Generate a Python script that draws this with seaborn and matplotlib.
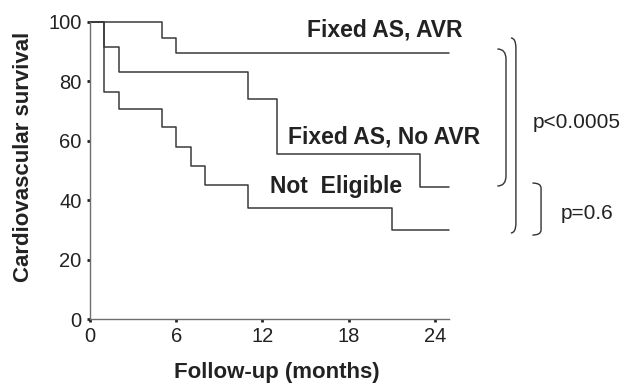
import numpy as np
import pandas as pd
import seaborn as sns
import matplotlib.pyplot as plt
from matplotlib.path import Path
from matplotlib.patches import PathPatch

# Kaplan-Meier style step data
avr_months = [0, 5, 6, 25]
avr_surv = [100, 94.7, 89.5, 89.5]

noavr_months = [0, 1, 2, 11, 13, 23, 25]
noavr_surv = [100, 91.7, 83.3, 74.1, 55.6, 44.4, 44.4]

ne_months = [0, 1, 2, 5, 6, 7, 8, 11, 21, 25]
ne_surv = [100, 76.5, 70.6, 64.5, 58.0, 51.5, 45.0, 37.5, 30.0, 30.0]

groups = ["Fixed AS, AVR", "Fixed AS, No AVR", "Not  Eligible"]
x_ticks = [0, 6, 12, 18, 24]
y_ticks = [0, 20, 40, 60, 80, 100]

df = pd.concat([
    pd.DataFrame({"month": avr_months, "surv": avr_surv, "group": groups[0]}),
    pd.DataFrame({"month": noavr_months, "surv": noavr_surv, "group": groups[1]}),
    pd.DataFrame({"month": ne_months, "surv": ne_surv, "group": groups[2]}),
])

sns.set_style("ticks")
plt.rcParams['font.family'] = ['Liberation Sans', 'DejaVu Sans']

fig = plt.figure(figsize=(6.29, 3.85), dpi=100)
ax = fig.add_axes([0.143, 0.171, 0.571, 0.772])

sns.lineplot(data=df, x="month", y="surv", hue="group", drawstyle="steps-post",
             estimator=None, palette=["#3a3a3a"] * 3, linewidth=1.1, legend=False, ax=ax)
for ln in ax.lines:
    ln.set_clip_on(False)

ax.set_xlim(0, 25)
ax.set_ylim(0, 100)
ax.set_xticks(x_ticks)
ax.set_yticks(y_ticks)
sns.despine(ax=ax)
for s in ["left", "bottom"]:
    ax.spines[s].set_color("#6e6e6e")
    ax.spines[s].set_linewidth(1.0)
ax.tick_params(length=2, width=2, color="#222222", labelsize=14.5,
               labelcolor="#222222", pad=4)

ax.set_xlabel("Follow-up (months)", fontsize=16, fontweight="bold", color="#222222", va="center")
ax.xaxis.set_label_coords(0.52, -0.178)
ax.set_ylabel("Cardiovascular survival", fontsize=16, fontweight="bold", color="#222222", va="center")
ax.yaxis.set_label_coords(-0.184, 0.545)

# curve labels
lab_kw = dict(fontsize=16.5, fontweight="bold", color="#222222", ha="center", va="center")
ax.text(20.5, 97.3, groups[0], **lab_kw)
ax.text(20.5, 61.3, groups[1], **lab_kw)
ax.text(17.1, 44.6, groups[2], **lab_kw)


def bracket(x0, y_top, y_bot, dx, dy):
    verts = [(x0 - dx, y_top), (x0, y_top), (x0, y_top - dy),
             (x0, y_bot + dy), (x0, y_bot), (x0 - dx, y_bot)]
    codes = [Path.MOVETO, Path.CURVE3, Path.CURVE3,
             Path.LINETO, Path.CURVE3, Path.CURVE3]
    ax.add_patch(PathPatch(Path(verts, codes), fill=False, edgecolor="#333333",
                           linewidth=1.0, clip_on=False))


bracket(29.65, 94.6, 29.0, 0.35, 3.4)
bracket(28.96, 90.9, 44.8, 0.6, 3.4)
bracket(31.4, 45.8, 28.3, 0.6, 1.7)

ax.text(30.8, 66.0, "p<0.0005", fontsize=15, color="#222222", ha="left", va="center", clip_on=False)
ax.text(32.8, 35.4, "p=0.6", fontsize=15, color="#222222", ha="left", va="center", clip_on=False)

fig.savefig("out.png", dpi=100)
